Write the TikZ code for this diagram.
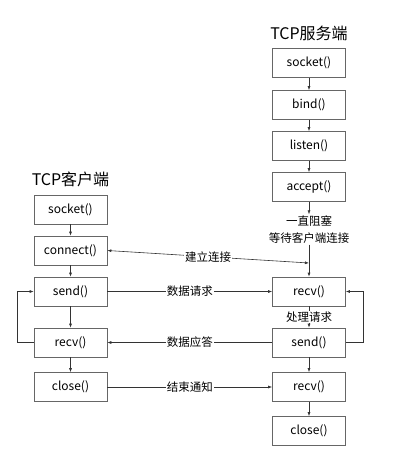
\documentclass[tikz,border=0pt]{standalone}
\usepackage{fontspec}
\setmainfont{Noto Sans CJK SC}
\usetikzlibrary{arrows.meta}

\begin{document}
\begin{tikzpicture}[x=1pt, y=-1pt, >={Latex[length=4pt,width=3pt]},
  line width=0.6pt, draw=black!80,
  box/.style={draw=black!60, minimum width=73pt, minimum height=29pt, font=\fontsize{12}{14}\selectfont},
  lbl/.style={fill=white, inner sep=1pt, font=\fontsize{11.5}{13}\selectfont},
  title/.style={font=\fontsize{16}{18}\selectfont}]
  \useasboundingbox (0,0) rectangle (411,457);
  % client side
  \node[title] (ctitle) at (70.5,179) {TCP客户端};
  \node[box] (csocket) at (70.5,209.5) {socket()};
  \node[box] (cconnect) at (70.5,250.5) {connect()};
  \node[box] (csend) at (70.5,291.5) {send()};
  \node[box] (crecv) at (70.5,342.5) {recv()};
  \node[box] (cclose) at (70.5,387) {close()};
  % server side
  \node[title] (stitle) at (309,33) {TCP服务端};
  \node[box] (ssocket) at (309,63) {socket()};
  \node[box] (sbind) at (309,105) {bind()};
  \node[box] (slisten) at (309,146) {listen()};
  \node[box] (saccept) at (309,187) {accept()};
  \node[lbl, align=center, font=\fontsize{11.5}{17}\selectfont] (swait) at (309,229.5) {一直阻塞\\等待客户端连接};
  \node[box] (srecv) at (309,291.5) {recv()};
  \node[box] (ssend) at (309,342.5) {send()};
  \node[box] (srecvb) at (309,387) {recv()};
  \node[box] (sclose) at (309,431) {close()};
  \coordinate (join) at (309,263);

  \draw[->] (csocket) -- (cconnect);
  \draw[->] (cconnect) -- (csend);
  \draw[->] (csend) -- (crecv);
  \draw[->] (crecv) -- (cclose);
  \draw[->] (crecv.west) -- ++(-16,0) |- (csend.west);

  \draw[->] (ssocket) -- (sbind);
  \draw[->] (sbind) -- (slisten);
  \draw[->] (slisten) -- (saccept);
  \draw[->] (saccept) -- (swait);
  \draw[->] (swait) -- (srecv);
  \draw[->] (srecv) -- (ssend) node[midway, lbl] {处理请求};
  \draw[->] (ssend) -- (srecvb);
  \draw[->] (srecvb) -- (sclose);
  \draw[->] (ssend.east) -- ++(17,0) |- (srecv.east);

  \draw[<->] (cconnect.east) -- (join) node[midway, lbl] {建立连接};
  \draw[->] (csend) -- (srecv) node[midway, lbl] {数据请求};
  \draw[->] (ssend) -- (crecv) node[midway, lbl] {数据应答};
  \draw[->] (cclose) -- (srecvb) node[midway, lbl] {结束通知};
\end{tikzpicture}
\end{document}
